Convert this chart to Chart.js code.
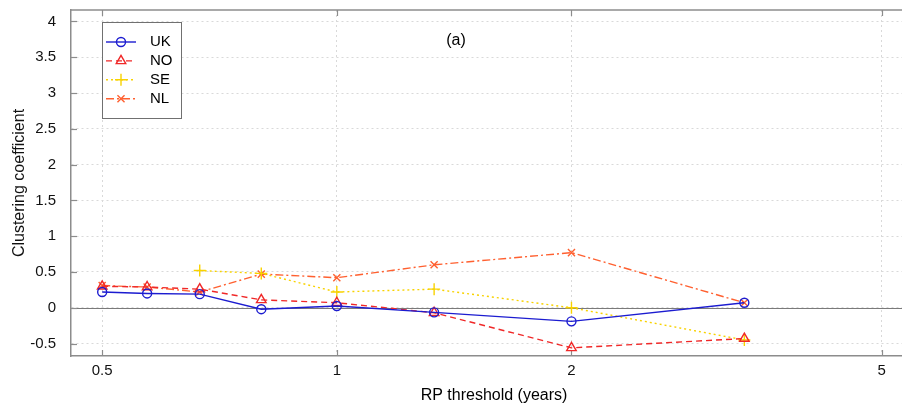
<!DOCTYPE html>
<html>
<head>
<meta charset="utf-8">
<script src="https://cdn.jsdelivr.net/npm/chart.js@4"></script>
<style>
  html, body { margin: 0; padding: 0; background: #fff; }
  #wrap { width: 902px; height: 407px; }
</style>
</head>
<body>
<div id="wrap"><canvas id="chart" width="902" height="407"></canvas></div>
<script>
// RP thresholds (years)
const thresholds = [0.5, 0.571, 0.667, 0.8, 1, 1.333, 2, 3.333];
const ukValues = [0.22, 0.20, 0.19, -0.02, 0.025, -0.065, -0.19, 0.07];
const noValues = [0.30, 0.29, 0.26, 0.11, 0.07, -0.07, -0.56, -0.43];
const seValues = [null, null, 0.52, 0.48, 0.22, 0.26, 0.0, -0.45];
const nlValues = [0.31, 0.29, 0.22, 0.47, 0.42, 0.60, 0.77, 0.07];

const xTicks = [0.5, 1, 2, 5];
const yTicks = [-0.5, 0, 0.5, 1, 1.5, 2, 2.5, 3, 3.5, 4];

const FONT = '"Liberation Sans", Arial, sans-serif';
const AXIS_COL = '#8c8c8c';
const GRID_COL = '#d9d9d9';

function pts(vals){
  return thresholds.map((x, i) => ({ x, y: vals[i] }));
}

const series = [
  { label: 'UK', data: pts(ukValues), color: '#1c1cd0', dash: [], style: 'circle', r: 4.5 },
  { label: 'NO', data: pts(noValues), color: '#f02828', dash: [6, 4], style: 'triangle', r: 5.5 },
  { label: 'SE', data: pts(seValues), color: '#f8d200', dash: [2, 3], style: 'cross', r: 6 },
  { label: 'NL', data: pts(nlValues), color: '#ff6030', dash: [8, 3, 2, 3], style: 'crossRot', r: 5 },
];

const datasets = series.map(s => ({
  label: s.label,
  data: s.data,
  showLine: true,
  borderColor: s.color,
  backgroundColor: 'rgba(0,0,0,0)',
  borderWidth: 1.4,
  borderDash: s.dash,
  pointStyle: s.style,
  pointRadius: s.r,
  pointBorderColor: s.color,
  pointBackgroundColor: 'rgba(0,0,0,0)',
  pointBorderWidth: 1.4,
  tension: 0,
}));

// drop the extra room Chart.js keeps for the end tick labels
function noPad(s){
  s.paddingTop = 0; s.paddingBottom = 0; s.paddingLeft = 0; s.paddingRight = 0;
}

// zero line, inward ticks, box, legend, panel label, x title
const extras = {
  id: 'extras',
  beforeDatasetsDraw(chart){
    const { ctx, chartArea: a, scales: { x, y } } = chart;
    ctx.save();
    ctx.strokeStyle = '#7a7a7a';
    ctx.lineWidth = 1;
    const y0 = Math.round(y.getPixelForValue(0)) + 0.5;
    ctx.beginPath(); ctx.moveTo(a.left, y0); ctx.lineTo(a.right, y0); ctx.stroke();

    ctx.strokeStyle = AXIS_COL;
    ctx.lineWidth = 1.2;
    const tl = 6;
    for (const v of xTicks) {
      const px = Math.round(x.getPixelForValue(v)) + 0.5;
      ctx.beginPath(); ctx.moveTo(px, a.bottom); ctx.lineTo(px, a.bottom - tl); ctx.stroke();
      ctx.beginPath(); ctx.moveTo(px, a.top); ctx.lineTo(px, a.top + tl); ctx.stroke();
    }
    for (const v of yTicks) {
      const py = Math.round(y.getPixelForValue(v)) + 0.5;
      ctx.beginPath(); ctx.moveTo(a.left, py); ctx.lineTo(a.left + tl, py); ctx.stroke();
    }
    ctx.lineWidth = 1.5;
    ctx.beginPath(); ctx.moveTo(a.left, a.top); ctx.lineTo(a.right, a.top); ctx.stroke();
    ctx.restore();
  },
  afterDraw(chart){
    const { ctx, chartArea: a } = chart;
    ctx.save();
    // legend
    const bx = a.left + 31, by = a.top + 12, bw = 79, bh = 96;
    ctx.fillStyle = '#fff';
    ctx.fillRect(bx, by, bw, bh);
    ctx.strokeStyle = '#707070';
    ctx.lineWidth = 1;
    ctx.strokeRect(bx + 0.5, by + 0.5, bw, bh);
    ctx.font = '15px ' + FONT;
    ctx.textBaseline = 'middle';
    chart.data.datasets.forEach((ds, i) => {
      const ly = by + 20 + i * 18.9;
      ctx.strokeStyle = ds.borderColor;
      ctx.lineWidth = ds.borderWidth;
      ctx.setLineDash(ds.borderDash);
      ctx.beginPath(); ctx.moveTo(bx + 4, ly); ctx.lineTo(bx + 34, ly); ctx.stroke();
      ctx.setLineDash([]);
      ctx.fillStyle = 'rgba(0,0,0,0)';
      Chart.helpers.drawPoint(ctx, {
        pointStyle: ds.pointStyle, radius: ds.pointRadius, rotation: 0, borderWidth: ds.pointBorderWidth
      }, bx + 19, ly);
      ctx.fillStyle = '#000';
      ctx.fillText(ds.label, bx + 48, ly);
    });
    // panel label
    ctx.textAlign = 'center';
    ctx.font = '16px ' + FONT;
    ctx.fillText('(a)', 456, a.top + 31);
    // x title
    ctx.fillText('RP threshold (years)', 494, 396);
    ctx.restore();
  }
};

new Chart(document.getElementById('chart'), {
  type: 'scatter',
  data: { datasets },
  plugins: [extras],
  options: {
    responsive: false,
    animation: false,
    layout: { autoPadding: false, padding: { top: 10, right: 0, left: 0, bottom: 0 } },
    plugins: { legend: { display: false }, tooltip: { enabled: false } },
    scales: {
      x: {
        type: 'logarithmic',
        min: 0.456,
        max: 5.31,
        afterBuildTicks: s => { s.ticks = xTicks.map(v => ({ value: v })); },
        afterFit: s => { s.height = 51; noPad(s); },
        ticks: {
          autoSkip: false, maxRotation: 0, padding: 6,
          color: '#111', font: { family: FONT, size: 15 },
          callback: v => String(v),
        },
        grid: { color: GRID_COL, lineWidth: 1, drawTicks: false },
        border: { color: AXIS_COL, width: 1.5, dash: [2, 3] },
      },
      y: {
        type: 'linear',
        min: -0.674,
        max: 4.16,
        afterBuildTicks: s => { s.ticks = yTicks.map(v => ({ value: v })); },
        afterFit: s => { s.width = 71; noPad(s); },
        ticks: {
          padding: 15,
          color: '#111', font: { family: FONT, size: 15 },
          callback: v => String(v),
        },
        grid: { color: GRID_COL, lineWidth: 1, drawTicks: false },
        border: { color: AXIS_COL, width: 1.5, dash: [2, 3] },
        title: {
          display: true, text: 'Clustering coefficient',
          color: '#111', font: { family: FONT, size: 16 },
          padding: { top: 10, bottom: 0 },
        },
      },
    },
  },
});
</script>
</body>
</html>
